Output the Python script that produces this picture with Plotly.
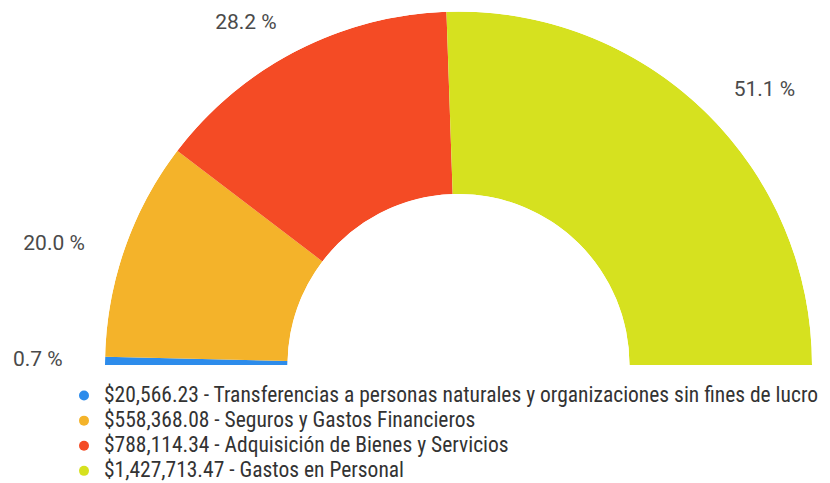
import math
import plotly.graph_objects as go

categories = [
    "Transferencias a personas naturales y organizaciones sin fines de lucro",
    "Seguros y Gastos Financieros",
    "Adquisición de Bienes y Servicios",
    "Gastos en Personal",
]
amounts = [20566.23, 558368.08, 788114.34, 1427713.47]
colors = ["#2D8CEB", "#F4B32A", "#F44B25", "#D6E11F"]

LABEL_FONT = "Roboto, sans-serif"
LEGEND_FONT = "Liberation Sans Narrow, Roboto Condensed, Roboto, sans-serif"
W, H = 830, 483
CX, CY, R = 450.5, 357.0, 353.5   # centre / outer radius of the half donut (px)
HOLE = 171.0 / 353.5
LABEL_R = 1.12

total = sum(amounts)
shares = [a / total for a in amounts]
spans = [s * 180 for s in shares]
starts = []
acc = 0
for sp in spans:
    starts.append(acc)
    acc += sp
mids = [st + sp / 2 for st, sp in zip(starts, spans)]

fig = go.Figure()

for cat, amt, col, mid, sp in zip(categories, amounts, colors, mids, spans):
    fig.add_trace(go.Barpolar(
        r=[1], base=[0], theta=[mid], width=[sp],
        marker=dict(color=col, line=dict(width=0)),
        showlegend=False, hoverinfo="skip",
    ))

# percentage labels on a cartesian overlay sharing the donut's centre/scale
lx = [-LABEL_R * math.cos(math.radians(m)) for m in mids]
ly = [LABEL_R * math.sin(math.radians(m)) for m in mids]
positions = []
for m in mids:
    vert = "bottom" if math.sin(math.radians(m)) > 0.2 else "middle"
    horiz = "left" if m < 90 else "right"
    positions.append(f"{vert} {horiz}")
fig.add_trace(go.Scatter(
    x=lx, y=ly, mode="text",
    text=[f"{s*100:.1f} %" for s in shares],
    textposition=positions,
    textfont=dict(family=LABEL_FONT, size=21, color="#4a4a4a"),
    cliponaxis=False, showlegend=False, hoverinfo="skip",
))

# legend entries
for cat, amt, col in zip(categories, amounts, colors):
    fig.add_trace(go.Scatterpolar(
        r=[None], theta=[None], mode="markers",
        marker=dict(color=col, size=10, symbol="circle"),
        name=f'<span style="font-size:21.5px">${amt:,.2f} - {cat}</span>',
    ))

fig.update_layout(
    width=W, height=H,
    margin=dict(l=0, r=0, t=0, b=0),
    paper_bgcolor="white", plot_bgcolor="rgba(0,0,0,0)",
    font=dict(family=LEGEND_FONT, size=17, color="#333333"),
    polar=dict(
        domain=dict(x=[(CX - R) / W, (CX + R) / W], y=[1 - CY / H, 1 - (CY - R) / H]),
        sector=[0, 180],
        hole=HOLE,
        bgcolor="rgba(0,0,0,0)",
        angularaxis=dict(visible=False, rotation=180, direction="clockwise"),
        radialaxis=dict(visible=False, range=[0, 1]),
    ),
    xaxis=dict(visible=False, domain=[0, 1], range=[-CX / R, (W - CX) / R], fixedrange=True),
    yaxis=dict(visible=False, domain=[0, 1], range=[-(H - CY) / R, CY / R], fixedrange=True),
    legend=dict(
        x=56 / W, xanchor="left", y=1 - 370 / H, yanchor="top",
        font=dict(family=LEGEND_FONT, size=17, color="#333333"),
        bgcolor="rgba(0,0,0,0)", tracegroupgap=0,
    ),
)

fig.write_html("out.html")
